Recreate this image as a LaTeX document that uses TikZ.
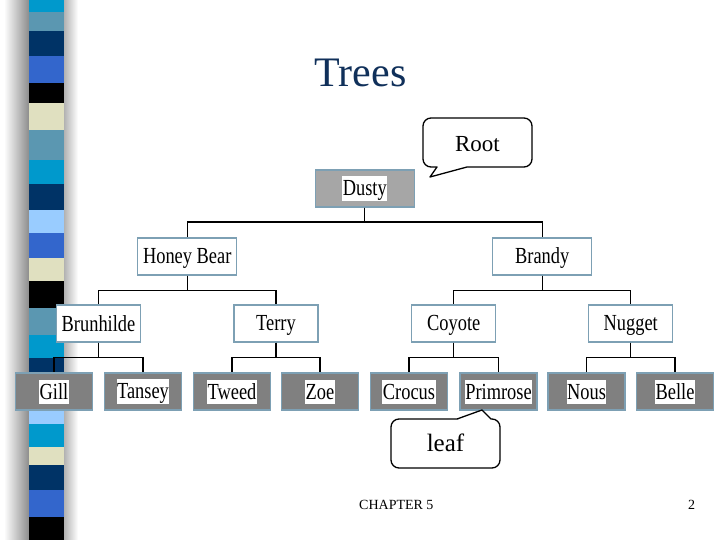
\documentclass[tikz,border=0pt]{standalone}
\usepackage{fontspec}
\setmainfont{Liberation Serif}
\newfontfamily\treefont[FakeStretch=0.8]{Liberation Serif}
\usetikzlibrary{positioning}
\definecolor{stripeteal}{HTML}{0099CC}
\definecolor{stripesteel}{HTML}{5B97B1}
\definecolor{stripenavy}{HTML}{003366}
\definecolor{striperoyal}{HTML}{3366CC}
\definecolor{stripebeige}{HTML}{E0E0C0}
\definecolor{stripesky}{HTML}{99CCFF}
\definecolor{titleblue}{HTML}{10305A}
\definecolor{boxline}{RGB}{125,160,180}
\colorlet{rootgray}{black!35}
\colorlet{leafgray}{black!50}
\newcommand\tilestrut{\rule[-4pt]{0pt}{23pt}}
\newcommand\hl[1]{{\setlength\fboxsep{0.5pt}\colorbox{white}{\tilestrut#1}}}

\begin{document}
\begin{tikzpicture}[x=1pt,y=-1pt,
  every node/.style={inner sep=0pt},
  tile/.style={draw=boxline,line width=1.2pt,minimum height=37pt,
    font=\treefont\fontsize{23}{23}\selectfont,execute at begin node=\tilestrut},
  root tile/.style={tile,fill=rootgray,minimum width=99pt},
  top tile/.style={tile,fill=white,minimum width=99pt},
  mid tile/.style={tile,fill=white,minimum width=84pt},
  leaf tile/.style={tile,fill=leafgray,minimum width=77pt},
  branch/.style={line width=1.2pt},
  balloon/.style={draw,fill=white,line width=1.3pt,line join=round},
  note/.style={font=\fontsize{23}{23}\selectfont}
]
\useasboundingbox (0,0) rectangle (720,540);
% striped band on the left
\shade[left color=white,right color=black!45] (4,0) rectangle (29,540);
\shade[left color=black!30,right color=white] (64,0) rectangle (78,540);
\foreach \ya/\yb/\col in {0/12/stripeteal,12/31/stripesteel,31/56/stripenavy,
  56/83/striperoyal,83/103/black,103/130/stripebeige,130/160/stripesteel,
  160/184/stripeteal,184/210/stripenavy,210/233/stripesky,233/258/striperoyal,
  258/281/stripebeige,281/308/black,308/335/stripesteel,335/358/stripeteal,
  358/411/stripenavy,411/424/stripesky,424/447/stripeteal,447/465/stripebeige,
  465/490/stripenavy,490/517/striperoyal,517/540/black}
  \fill[\col] (29,\ya) rectangle (64,\yb);
% title
\node[anchor=base,text=titleblue,font=\fontsize{42}{42}\selectfont] (title) at (360.5,87) {Trees};
% the tree
\node[root tile] (dusty) at (364.75,188.5) {\hl{Dusty}};
\node[top tile] (honey) at (187.25,256.5) {Honey Bear};
\node[top tile] (brandy) at (542.25,256.5) {Brandy};
\node[mid tile] (brun) at (98.5,323.5) {Brunhilde};
\node[mid tile] (terry) at (276,323.5) {Terry};
\node[mid tile] (coyote) at (453.75,323.5) {Coyote};
\node[mid tile] (nugget) at (630.75,323.5) {Nugget};
\foreach \name/\x/\txt in {gill/54/Gill,tansey/143/Tansey,tweed/232/Tweed,
  zoe/320/Zoe,crocus/409/Crocus,prim/498.5/Primrose,nous/586.5/Nous,belle/675/Belle}
  \node[leaf tile] (\name) at (\x,391.5) {\hl{\txt}};
\foreach \p/\c in {dusty/honey,dusty/brandy,honey/brun,honey/terry,
  brandy/coyote,brandy/nugget,brun/gill,brun/tansey,terry/tweed,terry/zoe,
  coyote/crocus,coyote/prim,nugget/nous,nugget/belle}
  \draw[branch] (\p.south) -- ++(0,14.5) -| (\c.north);
% callouts
\draw[balloon] (477,118) [rounded corners=8pt] -- (532,118) -- (532,167) -- (500,167)
  [sharp corners] -- (467,167) -- (430,177) -- (437,167) -- (432,167)
  [rounded corners=8pt] -- (423,167) -- (423,118) -- cycle;
\node[note,anchor=base] (rootnote) at (477.5,152) {Root};
\draw[balloon] (445,468) [rounded corners=8pt] -- (391,468) -- (391,419) -- (450,419)
  [sharp corners] -- (457,419) -- (482,410) -- (491,419) -- (492,419)
  [rounded corners=8pt] -- (500,419) -- (500,468) -- cycle;
\node[note,anchor=base,font=\fontsize{25}{25}\selectfont] (leafnote) at (445.5,451) {leaf};
% footer
\node[anchor=base west,font=\fontsize{14}{14}\selectfont] (chapter) at (359,509) {CHAPTER 5};
\node[anchor=base,font=\fontsize{14}{14}\selectfont] (page) at (691.5,509) {2};
\end{tikzpicture}
\end{document}
